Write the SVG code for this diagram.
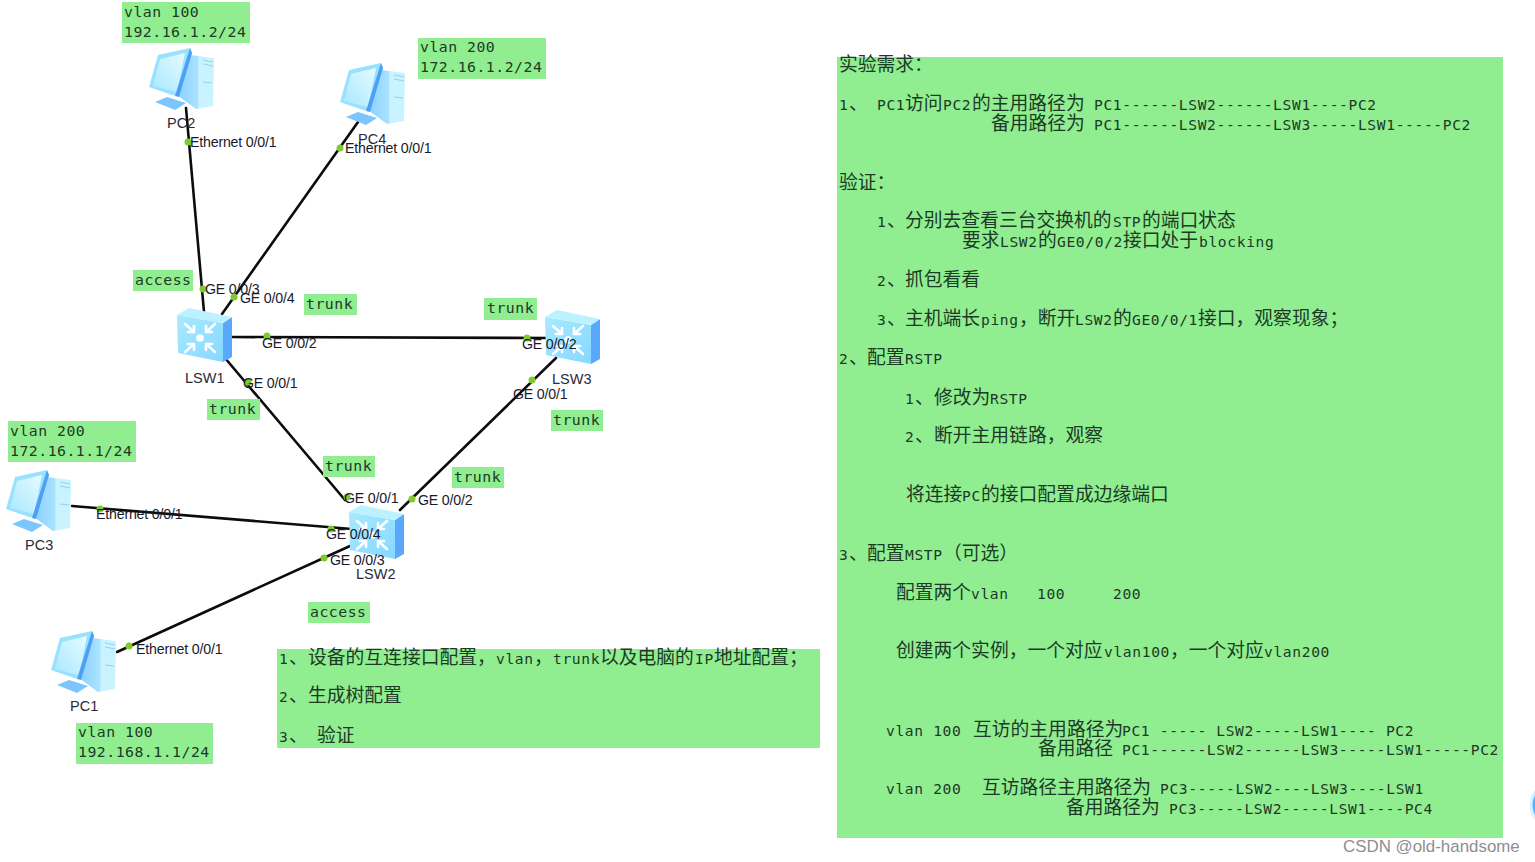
<svg xmlns="http://www.w3.org/2000/svg" width="1535" height="862" viewBox="0 0 1535 862">
<style>
.bg{fill:#90ee90}
.t{font-family:"DejaVu Sans Mono","Liberation Mono",monospace;font-size:14.6px;letter-spacing:.64px;fill:#1c3a26}
.l{font-family:"DejaVu Sans Mono","Liberation Mono",monospace;font-size:14.8px;letter-spacing:.5px;fill:#1c3a26}
.c{font-family:"Noto Sans CJK SC",sans-serif;font-size:18.8px;letter-spacing:0;fill:#1c3a26}
.p{font-family:"Liberation Sans",Arial,sans-serif;font-size:14.2px;fill:#1a1a2a;letter-spacing:-.2px}
.n{font-family:"Liberation Sans",Arial,sans-serif;font-size:14.5px;fill:#2a2a3a}
.w{font-family:"Liberation Sans",Arial,sans-serif;font-size:16.9px;fill:#8e8e8e}
#links line{stroke:#0c0c0c;stroke-width:2.6;stroke-linecap:round}
.d{fill:#7ecb2e}
.a{fill:none;stroke:#fff;stroke-width:2.6;stroke-linecap:round;stroke-linejoin:round}
</style>
<defs>
<linearGradient id="scr" x1="0" y1="1" x2="1" y2="0"><stop offset="0" stop-color="#a8e8ff"/><stop offset="1" stop-color="#e6fbff"/></linearGradient>
<linearGradient id="tw" x1="0" y1="0" x2="1" y2="0"><stop offset="0" stop-color="#8ccfff"/><stop offset=".55" stop-color="#a8e2ff"/><stop offset=".6" stop-color="#c8f3ff"/><stop offset="1" stop-color="#c8f3ff"/></linearGradient>
<linearGradient id="swf" x1="0" y1="0" x2="1" y2="1"><stop offset="0" stop-color="#a8eaff"/><stop offset="1" stop-color="#86d8ff"/></linearGradient>
<g id="pc">
<polygon points="190,55 214,58 213,106 196,109 177,95" fill="url(#tw)"/>
<path d="M203,60l10,2M203,64l10,2M203,82l9,1" stroke="#8fd3f5" stroke-width="1" fill="none"/>
<polygon points="155,102 167,97 186,103 175,110" fill="#7cc5ff"/>
<polygon points="149,87 158,55 190,48 192,53 178,96 172,95" fill="#99e2ff"/>
<polygon points="153,86 160,59 185,53 177,92" fill="url(#scr)"/>
<polygon points="190,48 192,53 179,97 175,96" fill="#4d9ff5"/>
</g>
<g id="sw">
<polygon points="223,323 232,317 232,357 223,362" fill="#5aa8fb"/>
<polygon points="177,315 223,323 223,362 178,353" fill="url(#swf)"/>
<polygon points="177,315 189,308 232,317 223,323" fill="#bcf2ff"/>
<circle cx="200" cy="338" r="3.8" fill="#fff"/>
<path class="a" d="M185,324l9,8M194,326v6h-6M215,324l-9,8M206,326v6h6M185,352l9,-8M194,350v-6h-6M215,352l-9,-8M206,350v-6h6"/>
</g>
</defs>
<rect width="1535" height="862" fill="#fff"/>

<g id="links">
<line x1="186" y1="108" x2="204" y2="312"/>
<line x1="358" y1="122" x2="222" y2="314"/>
<line x1="232" y1="337" x2="548" y2="338"/>
<line x1="225" y1="358" x2="345" y2="500"/>
<line x1="556" y1="358" x2="400" y2="510"/>
<line x1="72" y1="506" x2="352" y2="529"/>
<line x1="117" y1="652" x2="350" y2="546"/>
</g>

<g id="PC2"><use href="#pc"/><text class="n" x="167" y="128">PC2</text></g>
<g id="PC4"><use href="#pc" transform="translate(191,15)"/><text class="n" x="358" y="144">PC4</text></g>
<g id="PC3"><use href="#pc" transform="translate(-143,422)"/><text class="n" x="25" y="550">PC3</text></g>
<g id="PC1"><use href="#pc" transform="translate(-98,583)"/><text class="n" x="70" y="711">PC1</text></g>
<g id="LSW1"><use href="#sw"/><text class="n" x="185" y="383">LSW1</text></g>
<g id="LSW3"><use href="#sw" transform="translate(368,2)"/><text class="n" x="552" y="384">LSW3</text></g>
<g id="LSW2"><use href="#sw" transform="translate(172,197)"/><text class="n" x="356" y="579">LSW2</text></g>

<g id="ports">
<circle class="d" cx="188" cy="142" r="3.5"/><text class="p" x="190" y="147">Ethernet 0/0/1</text>
<circle class="d" cx="340" cy="148" r="3.5"/><text class="p" x="345" y="153">Ethernet 0/0/1</text>
<circle class="d" cx="203" cy="289" r="3.5"/><text class="p" x="205" y="294">GE 0/0/3</text>
<circle class="d" cx="234" cy="297" r="3.5"/><text class="p" x="240" y="303">GE 0/0/4</text>
<circle class="d" cx="267" cy="336" r="3.5"/><text class="p" x="262" y="348">GE 0/0/2</text>
<circle class="d" cx="527" cy="338" r="3.5"/><text class="p" x="522" y="349">GE 0/0/2</text>
<circle class="d" cx="248" cy="382" r="3.5"/><text class="p" x="243" y="388">GE 0/0/1</text>
<circle class="d" cx="532" cy="380" r="3.5"/><text class="p" x="513" y="399">GE 0/0/1</text>
<circle class="d" cx="347" cy="497" r="3.5"/><text class="p" x="344" y="503">GE 0/0/1</text>
<circle class="d" cx="412" cy="499" r="3.5"/><text class="p" x="418" y="505">GE 0/0/2</text>
<circle class="d" cx="331" cy="529" r="3.5"/><text class="p" x="326" y="539">GE 0/0/4</text>
<circle class="d" cx="324" cy="558" r="3.5"/><text class="p" x="330" y="565">GE 0/0/3</text>
<circle class="d" cx="100" cy="509" r="3.5"/><text class="p" x="96" y="519">Ethernet 0/0/1</text>
<circle class="d" cx="129" cy="646" r="3.5"/><text class="p" x="136" y="654">Ethernet 0/0/1</text>
</g>

<g id="labels">
<rect class="bg" x="122" y="2" width="128" height="41"/><text class="l" x="124" y="17">vlan 100</text><text class="l" x="124" y="37">192.16.1.2/24</text>
<rect class="bg" x="418" y="38" width="128" height="41"/><text class="l" x="420" y="52">vlan 200</text><text class="l" x="420" y="72">172.16.1.2/24</text>
<rect class="bg" x="8" y="421" width="128" height="41"/><text class="l" x="10" y="436">vlan 200</text><text class="l" x="10" y="456">172.16.1.1/24</text>
<rect class="bg" x="76" y="723" width="137" height="41"/><text class="l" x="78" y="737">vlan 100</text><text class="l" x="78" y="757">192.168.1.1/24</text>
<rect class="bg" x="133" y="270" width="60" height="21"/><text class="l" x="135" y="285">access</text>
<rect class="bg" x="308" y="602" width="62" height="21"/><text class="l" x="310" y="617">access</text>
<rect class="bg" x="304" y="294" width="53" height="21"/><text class="l" x="306" y="309">trunk</text>
<rect class="bg" x="484" y="298" width="53" height="22"/><text class="l" x="487" y="313">trunk</text>
<rect class="bg" x="207" y="399" width="53" height="21"/><text class="l" x="209" y="414">trunk</text>
<rect class="bg" x="551" y="410" width="52" height="21"/><text class="l" x="553" y="425">trunk</text>
<rect class="bg" x="323" y="456" width="52" height="21"/><text class="l" x="325" y="471">trunk</text>
<rect class="bg" x="452" y="467" width="52" height="21"/><text class="l" x="454" y="482">trunk</text>
</g>

<g id="tasks">
<rect class="bg" x="277" y="649" width="543" height="99"/>
<g transform="translate(0,1)">
<text class="t" y="663"><tspan x="279">1</tspan><tspan class="c" x="289">、</tspan><tspan class="c" x="308">设备的互连接口配置，</tspan><tspan x="496">vlan</tspan><tspan class="c" x="534">，</tspan><tspan x="553">trunk</tspan><tspan class="c" x="600">以及电脑的</tspan><tspan x="695">IP</tspan><tspan class="c" x="714">地址配置；</tspan></text>
<text class="t" y="701"><tspan x="279">2</tspan><tspan class="c" x="289">、</tspan><tspan class="c" x="308">生成树配置</tspan></text>
<text class="t" y="741"><tspan x="279">3</tspan><tspan class="c" x="289">、</tspan><tspan class="c" x="317">验证</tspan></text>
</g>
</g>

<g id="requirements">
<rect class="bg" x="837" y="57" width="666" height="781"/>
<g transform="translate(0,1)">
<text class="c" x="839" y="70">实验需求：</text>
<text class="t" y="109"><tspan x="839">1</tspan><tspan class="c" x="849">、</tspan><tspan x="877">PC1</tspan><tspan class="c" x="905">访问</tspan><tspan x="943">PC2</tspan><tspan class="c" x="972">的主用路径为</tspan><tspan x="1094">PC1------LSW2------LSW1----PC2</tspan></text>
<text class="t" y="129"><tspan class="c" x="991">备用路径为</tspan><tspan x="1094">PC1------LSW2------LSW3-----LSW1-----PC2</tspan></text>
<text class="c" x="839" y="188">验证：</text>
<text class="t" y="226"><tspan x="877">1</tspan><tspan class="c" x="887">、</tspan><tspan class="c" x="905">分别去查看三台交换机的</tspan><tspan x="1113">STP</tspan><tspan class="c" x="1142">的端口状态</tspan></text>
<text class="t" y="246"><tspan class="c" x="962">要求</tspan><tspan x="1000">LSW2</tspan><tspan class="c" x="1038">的</tspan><tspan x="1057">GE0/0/2</tspan><tspan class="c" x="1123">接口处于</tspan><tspan x="1199">blocking</tspan></text>
<text class="t" y="285"><tspan x="877">2</tspan><tspan class="c" x="887">、</tspan><tspan class="c" x="905">抓包看看</tspan></text>
<text class="t" y="324"><tspan x="877">3</tspan><tspan class="c" x="887">、</tspan><tspan class="c" x="905">主机端长</tspan><tspan x="981">ping</tspan><tspan class="c" x="1019">，断开</tspan><tspan x="1075">LSW2</tspan><tspan class="c" x="1113">的</tspan><tspan x="1132">GE0/0/1</tspan><tspan class="c" x="1198">接口，观察现象；</tspan></text>
<text class="t" y="363"><tspan x="839">2</tspan><tspan class="c" x="849">、</tspan><tspan class="c" x="867">配置</tspan><tspan x="905">RSTP</tspan></text>
<text class="t" y="403"><tspan x="905">1</tspan><tspan class="c" x="915">、</tspan><tspan class="c" x="934">修改为</tspan><tspan x="990">RSTP</tspan></text>
<text class="t" y="441"><tspan x="905">2</tspan><tspan class="c" x="915">、</tspan><tspan class="c" x="934">断开主用链路，观察</tspan></text>
<text class="t" y="500"><tspan class="c" x="906">将连接</tspan><tspan x="962">PC</tspan><tspan class="c" x="981">的接口配置成边缘端口</tspan></text>
<text class="t" y="559"><tspan x="839">3</tspan><tspan class="c" x="849">、</tspan><tspan class="c" x="867">配置</tspan><tspan x="905">MSTP</tspan><tspan class="c" x="943">（可选）</tspan></text>
<text class="t" y="598"><tspan class="c" x="896">配置两个</tspan><tspan x="971">vlan</tspan><tspan x="1037">100</tspan><tspan x="1113">200</tspan></text>
<text class="t" y="656"><tspan class="c" x="896">创建两个实例，一个对应</tspan><tspan x="1104">vlan100</tspan><tspan class="c" x="1170">，一个对应</tspan><tspan x="1264">vlan200</tspan></text>
<text class="t" y="735" xml:space="preserve"><tspan x="886">vlan 100</tspan><tspan class="c" x="973">互访的主用路径为</tspan><tspan x="1122">PC1 ----- LSW2-----LSW1---- PC2</tspan></text>
<text class="t" y="754"><tspan class="c" x="1038">备用路径</tspan><tspan x="1122">PC1------LSW2------LSW3-----LSW1-----PC2</tspan></text>
<text class="t" y="793"><tspan x="886">vlan 200</tspan><tspan class="c" x="982">互访路径主用路径为</tspan><tspan x="1160">PC3-----LSW2----LSW3----LSW1</tspan></text>
<text class="t" y="813"><tspan class="c" x="1066">备用路径为</tspan><tspan x="1169">PC3-----LSW2-----LSW1----PC4</tspan></text>
</g>
</g>

<circle cx="1553" cy="805" r="22" fill="#4db2ff" stroke="#d9f0ff" stroke-width="3"/>
<text class="w" x="1343" y="852">CSDN @old-handsome</text>
</svg>
